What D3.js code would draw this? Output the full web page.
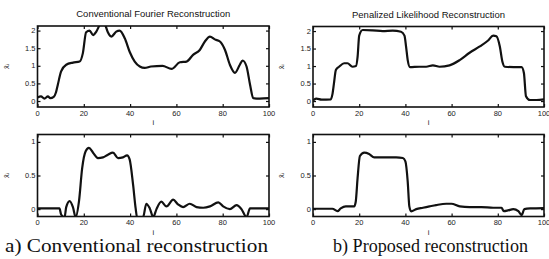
<!DOCTYPE html>
<meta charset="utf-8">
<style>
body { margin: 0; background: #fff; }
.tick-label { font-family: "Liberation Sans", Arial, sans-serif; font-size: 7.5px; fill: #222; }
.title { font-family: "Liberation Sans", Arial, sans-serif; font-size: 8.5px; fill: #111; }
.caption { font-family: "Liberation Serif", "Times New Roman", serif; font-size: 18px; fill: #111; }
</style>
<body>
<svg width="549" height="259"></svg>
<script src="https://d3js.org/d3.v7.min.js"></script>
<script>

// x ticks and y ticks
var xTicks = [0, 20, 40, 60, 80, 100];
var yTicksFull = [0, 0.5, 1, 1.5, 2];
var yTicksRoi = [0, 0.5, 1];

var titles = ["Conventional Fourier Reconstruction", "Penalized Likelihood Reconstruction"];
var captions = ["a) Conventional reconstruction", "b) Proposed reconstruction"];

// [i, value]
var convFull = [[0,0.1],[1.5,0.13],[3,0.07],[4.5,0.13],[5.5,0.08],[7,0.12],[8,0.25],[8.8,0.47],[10.2,0.84],[12.4,1.03],
  [15.3,1.09],[18.2,1.12],[19.6,1.36],[21,1.95],[22.5,2.0],[24,1.87],[25.4,1.97],[26.8,2.15],[28,2.25],[29.3,2.15],
  [30.4,1.95],[31.9,1.83],[34,1.97],[35.5,2.0],[37.7,1.78],[39.8,1.4],[42,1.12],[44.2,0.98],[46.3,0.94],[49,0.98],
  [54,1.0],[57.9,0.91],[61.5,1.1],[64.4,1.12],[67.2,1.31],[70.1,1.45],[72.3,1.69],[74.5,1.83],[76.6,1.75],[78.8,1.69],
  [81,1.45],[83.1,1.03],[85.3,0.8],[87.4,1.03],[88.6,1.15],[90.3,0.98],[91.8,0.47],[93.2,0.08],[96,0.07],[100,0.08]];

var penFull = [[0,0.02],[1.5,0.07],[3.7,0.04],[7.7,0.05],[8.4,0.19],[9.1,0.52],[9.9,0.89],[11.3,0.98],[13.5,1.08],
  [14.9,1.08],[17.1,0.98],[18.6,1.0],[19.3,1.26],[20,1.87],[21.5,2.03],[25.8,2.02],[30.2,2.0],[34.5,2.01],[38.1,1.98],
  [39.6,1.87],[40.3,1.55],[41,1.17],[42,0.97],[46,0.98],[49,0.98],[51.9,1.02],[54.8,0.98],[59.1,1.02],[63.5,1.17],
  [67.8,1.38],[72.2,1.56],[75.8,1.73],[78,1.87],[79.4,1.85],[80.9,1.55],[82,1.12],[83,0.98],[86.8,0.97],[90.3,0.97],
  [91.3,0.8],[92.2,0.14],[93.9,0.03],[96.8,0.03],[100,0.05]];

var convRoi = [[0,0.01],[9.5,0.01],[10.2,-0.08],[11.7,-0.12],[12.4,0.03],[13.9,0.12],[15.3,0.03],[16.5,-0.12],[17.9,0.11],
  [19.3,0.61],[20.8,0.86],[22.2,0.91],[24,0.84],[26.1,0.76],[28.3,0.77],[30.4,0.81],[32.6,0.84],[34.8,0.76],[36.9,0.77],
  [38.7,0.8],[39.8,0.74],[41.3,0.36],[42.4,0.01],[43,-0.12],[45.6,-0.12],[47,0.08],[48.5,0.01],[50,-0.12],[51.4,0.0],
  [53.5,0.11],[55.7,0.04],[58.6,0.14],[60.7,0.07],[62.9,0.03],[65.8,0.08],[68.7,0.03],[71.6,0.02],[74.5,0.04],[78.1,0.1],
  [80.2,0.04],[83.1,0.0],[86,0.06],[88.1,0.0],[90.3,-0.12],[91.8,0.01],[100,0.01]];

var penRoi = [[0,0.005],[8.4,0.005],[10.6,-0.03],[12,0.01],[14.2,0.04],[17.8,0.04],[18.5,0.11],[19.3,0.46],[20.3,0.79],
  [22.2,0.84],[24.3,0.82],[26.5,0.77],[31.6,0.77],[36,0.77],[38.9,0.76],[40,0.71],[41,0.41],[41.7,0.04],[42.5,-0.035],
  [44.7,0.0],[47.6,0.02],[50.4,0.04],[53.3,0.06],[57.7,0.08],[59.9,0.08],[63.5,0.04],[67.8,0.03],[72.9,0.03],[78,0.02],
  [81.6,0.02],[82.6,-0.03],[84.4,-0.02],[86.7,0.0],[88.9,-0.03],[90.3,-0.09],[91.5,0.0],[94,0.01],[100,0.015]];

var svg = d3.select("svg");

var panels = [
  {id:"tl", x0:37.5, x1:269, y0:26, y1:107, dom:[-0.17,2.13], yt:yTicksFull, data:convFull, title:titles[0], tw:154},
  {id:"tr", x0:313, x1:544, y0:26.5, y1:107, dom:[-0.17,2.13], yt:yTicksFull, data:penFull, title:titles[1], tw:153},
  {id:"bl", x0:37.5, x1:269, y0:134.5, y1:216.5, dom:[-0.11,1.11], yt:yTicksRoi, data:convRoi},
  {id:"br", x0:313, x1:544, y0:134.5, y1:216.5, dom:[-0.11,1.11], yt:yTicksRoi, data:penRoi}
];

panels.forEach(function(p){
  var x = d3.scaleLinear().domain([0,100]).range([p.x0, p.x1]);
  var y = d3.scaleLinear().domain(p.dom).range([p.y1, p.y0]);
  var g = svg.append("g");

  g.append("clipPath").attr("id","clip-"+p.id)
    .append("rect").attr("x",p.x0).attr("y",p.y0)
    .attr("width",p.x1-p.x0).attr("height",p.y1-p.y0);

  var line = d3.line()
    .x(function(d){ return x(d[0]); })
    .y(function(d){ return y(d[1]); })
    .curve(d3.curveMonotoneX);

  g.append("path")
    .attr("clip-path","url(#clip-"+p.id+")")
    .attr("d", line(p.data))
    .attr("fill","none")
    .attr("stroke","#111")
    .attr("stroke-width",2.2)
    .attr("stroke-linejoin","round");

  // inward ticks, matlab style
  var tl = 3;
  g.append("g").attr("transform","translate(0,"+p.y1+")")
    .call(d3.axisBottom(x).tickValues(xTicks).tickSize(-tl).tickFormat(""))
    .call(function(a){ a.select(".domain").remove(); });
  g.append("g").attr("transform","translate(0,"+p.y0+")")
    .call(d3.axisTop(x).tickValues(xTicks).tickSize(-tl).tickFormat(""))
    .call(function(a){ a.select(".domain").remove(); });
  g.append("g").attr("transform","translate("+p.x0+",0)")
    .call(d3.axisLeft(y).tickValues(p.yt).tickSize(-tl).tickFormat(""))
    .call(function(a){ a.select(".domain").remove(); });
  g.append("g").attr("transform","translate("+p.x1+",0)")
    .call(d3.axisRight(y).tickValues(p.yt).tickSize(-tl).tickFormat(""))
    .call(function(a){ a.select(".domain").remove(); });
  g.selectAll(".tick line").attr("stroke","#111").attr("stroke-width",1.2);

  g.append("rect")
    .attr("x",p.x0).attr("y",p.y0)
    .attr("width",p.x1-p.x0).attr("height",p.y1-p.y0)
    .attr("fill","none").attr("stroke","#111").attr("stroke-width",1.6);

  // tick labels
  g.selectAll(".xl").data(xTicks).enter().append("text")
    .attr("class","tick-label")
    .attr("x", x).attr("y", p.y1+8.5)
    .attr("text-anchor","middle")
    .text(function(d){ return d; });
  g.selectAll(".yl").data(p.yt).enter().append("text")
    .attr("class","tick-label")
    .attr("x", p.x0-2).attr("y", function(d){ return y(d)+2.5; })
    .attr("text-anchor","end")
    .text(function(d){ return d; });

  // axis labels
  g.append("text").attr("class","tick-label")
    .attr("transform","translate("+(p.x0-29)+","+((p.y0+p.y1)/2)+") rotate(-90)")
    .attr("text-anchor","middle")
    .text("x\u0302\u1d62");
  g.append("text").attr("class","tick-label")
    .attr("x",(p.x0+p.x1)/2).attr("y",p.y1+18)
    .attr("text-anchor","middle")
    .text("i");

  if(p.title){
    g.append("text").attr("class","title")
      .attr("x",(p.x0+p.x1)/2 - p.tw/2).attr("y",p.y0-9)
      .attr("textLength",p.tw).attr("lengthAdjust","spacingAndGlyphs")
      .text(p.title);
  }
});

svg.append("text").attr("class","caption")
  .attr("x",5).attr("y",252)
  .attr("textLength",263).attr("lengthAdjust","spacingAndGlyphs")
  .text(captions[0]);
svg.append("text").attr("class","caption")
  .attr("x",333).attr("y",252)
  .attr("textLength",195).attr("lengthAdjust","spacingAndGlyphs")
  .text(captions[1]);

</script>
</body>
</html>
